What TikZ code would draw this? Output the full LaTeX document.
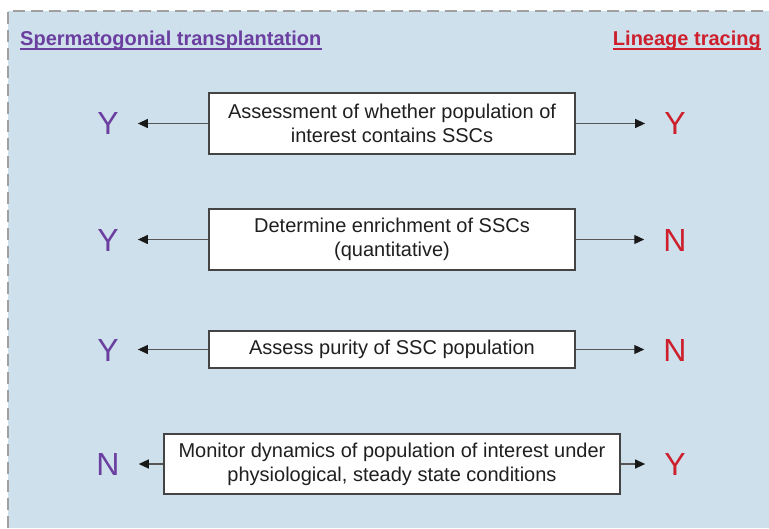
\documentclass[tikz,border=0pt]{standalone}
\usepackage{fontspec}
\setmainfont{Liberation Sans}
\usetikzlibrary{arrows.meta}
\definecolor{bgblue}{HTML}{CEE0EC}
\definecolor{dashgray}{HTML}{A0A0A0}
\definecolor{purp}{HTML}{6B3FA0}
\definecolor{redc}{HTML}{CD1F2C}
\definecolor{boxline}{HTML}{444444}
\definecolor{arrline}{HTML}{555555}
\tikzset{
  boxnode/.style={draw=boxline, line width=1.4pt, fill=white, inner sep=0pt, align=center,
    font=\fontsize{20}{24}\selectfont, text=black!88},
  letterL/.style={inner sep=0pt, font=\fontsize{32}{32}\selectfont, text=purp},
  letterR/.style={inner sep=0pt, font=\fontsize{32}{32}\selectfont, text=redc},
  arr/.style={draw=arrline, line width=1.2pt, -{Triangle[length=10pt,width=9pt,color=black!90]}, shorten >=19pt},
  titleL/.style={inner sep=0pt, anchor=base west, font=\bfseries\fontsize{20}{20}\selectfont, text=purp},
  titleR/.style={inner sep=0pt, anchor=base east, font=\bfseries\fontsize{20}{20}\selectfont, text=redc},
}
\begin{document}
\begin{tikzpicture}[x=1pt,y=-1pt]
\useasboundingbox (0,0) rectangle (769,528);
\fill[bgblue] (8,11) rectangle (769,528);
\draw[dashgray, line width=2pt, dash pattern=on 12pt off 6pt] (8,528) -- (8,11) -- (769,11);

\node[titleL] (tl) at (20,45) {Spermatogonial transplantation};
\draw[purp, line width=1.8pt] ([yshift=-4pt]tl.base west) -- ([yshift=-4pt]tl.base east);
\node[titleR] (tr) at (761,45) {Lineage tracing};
\draw[redc, line width=1.8pt] ([yshift=-4pt]tr.base west) -- ([yshift=-4pt]tr.base east);

\node[boxnode, minimum width=366pt, minimum height=61pt] (b1) at (392,123.5) {Assessment of whether population of\\interest contains SSCs};
\node[boxnode, minimum width=366pt, minimum height=61pt] (b2) at (392,239.5) {Determine enrichment of SSCs\\(quantitative)};
\node[boxnode, minimum width=366pt, minimum height=37pt] (b3) at (392,349.5) {Assess purity of SSC population};
\node[boxnode, minimum width=456pt, minimum height=60pt] (b4) at (392,464) {Monitor dynamics of population of interest under\\physiological, steady state conditions};

\node[letterL] (l1) at (108,123) {Y};
\node[letterL] (l2) at (108,240) {Y};
\node[letterL] (l3) at (108,350) {Y};
\node[letterL] (l4) at (108,464) {N};
\node[letterR] (r1) at (675,123) {Y};
\node[letterR] (r2) at (675,240) {N};
\node[letterR] (r3) at (675,350) {N};
\node[letterR] (r4) at (675,464) {Y};

\foreach \i in {1,2,3,4}{
  \draw[arr] (b\i.west) -- (l\i.east |- b\i.west);
  \draw[arr] (b\i.east) -- (r\i.west |- b\i.east);
}
\end{tikzpicture}
\end{document}
